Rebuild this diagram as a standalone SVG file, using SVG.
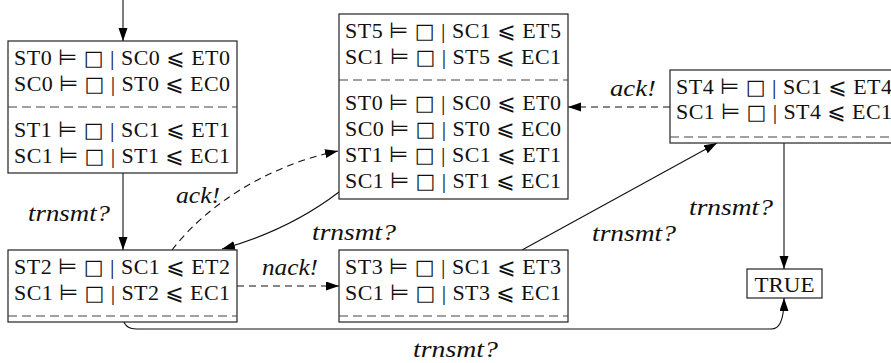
<svg xmlns="http://www.w3.org/2000/svg" width="891" height="363" viewBox="0 0 891 363">
<style>
.box{fill:#fff;stroke:#222;stroke-width:1.2}
.sep{stroke:#444;stroke-width:1.1;stroke-dasharray:9 5;fill:none}
.t{font-family:"Liberation Serif","DejaVu Sans","DejaVu Serif",serif;font-size:22px;fill:#111}
.sym{font-family:"DejaVu Sans","DejaVu Serif",serif;font-size:22px}
.le{font-family:"DejaVu Sans","DejaVu Serif",serif;font-size:22px}
.sq{font-family:"DejaVu Sans","DejaVu Serif",serif;font-size:21px}
.lbl{font-family:"Liberation Serif","DejaVu Serif",serif;font-style:italic;font-size:23px;fill:#111}
.c{fill:none;stroke:#111;stroke-width:1.1}
.d{stroke-dasharray:7 5}
</style>
<defs>
<marker id="ah" markerUnits="userSpaceOnUse" markerWidth="14" markerHeight="10" refX="13" refY="4.5" orient="auto">
<path d="M0,0 L13,4.5 L0,9 z" fill="#000"/>
</marker>
</defs>
<g id="connectors">
<path class="c" d="M123,0 L123,41" marker-end="url(#ah)"/>
<path class="c" d="M123,173 L123,250" marker-end="url(#ah)"/>
<path class="c d" d="M172,250 C205,207 265,166 338,151" marker-end="url(#ah)"/>
<path class="c" d="M339,192 C305,218 265,237 222,249" marker-end="url(#ah)"/>
<path class="c d" d="M237,286 L339,286" marker-end="url(#ah)"/>
<path class="c" d="M522,250 L717,143" marker-end="url(#ah)"/>
<path class="c d" d="M670,107 L568,107" marker-end="url(#ah)"/>
<path class="c" d="M784,143 L784,269" marker-end="url(#ah)"/>
<path class="c" d="M123,316 C123,325 128,329 137,329 L771,329 C779,329 784,322 784,298" marker-end="url(#ah)"/>
<text class="lbl" x="28" y="221" textLength="82" lengthAdjust="spacingAndGlyphs">trnsmt?</text>
<text class="lbl" x="176" y="203" textLength="44" lengthAdjust="spacingAndGlyphs">ack!</text>
<text class="lbl" x="312" y="240" textLength="84" lengthAdjust="spacingAndGlyphs">trnsmt?</text>
<text class="lbl" x="262" y="275" textLength="56" lengthAdjust="spacingAndGlyphs">nack!</text>
<text class="lbl" x="592" y="241" textLength="84" lengthAdjust="spacingAndGlyphs">trnsmt?</text>
<text class="lbl" x="689" y="215" textLength="84" lengthAdjust="spacingAndGlyphs">trnsmt?</text>
<text class="lbl" x="610" y="96" textLength="46" lengthAdjust="spacingAndGlyphs">ack!</text>
<text class="lbl" x="413" y="357" textLength="85" lengthAdjust="spacingAndGlyphs">trnsmt?</text>
</g>
<g id="ST0">
<rect class="box" x="8" y="41" width="229" height="132"/>
<line class="sep" x1="8" y1="107" x2="237" y2="107"/>
<text class="t" x="14" y="65" textLength="216">ST0 <tspan class="sym">⊨</tspan> <tspan class="sq">□</tspan> | SC0 <tspan class="le">⩽</tspan> ET0</text>
<text class="t" x="14" y="91" textLength="216">SC0 <tspan class="sym">⊨</tspan> <tspan class="sq">□</tspan> | ST0 <tspan class="le">⩽</tspan> EC0</text>
<text class="t" x="14" y="137" textLength="216">ST1 <tspan class="sym">⊨</tspan> <tspan class="sq">□</tspan> | SC1 <tspan class="le">⩽</tspan> ET1</text>
<text class="t" x="14" y="163" textLength="216">SC1 <tspan class="sym">⊨</tspan> <tspan class="sq">□</tspan> | ST1 <tspan class="le">⩽</tspan> EC1</text>
</g>
<g id="ST2">
<rect class="box" x="8" y="250" width="229" height="72"/>
<line class="sep" x1="8" y1="316" x2="237" y2="316"/>
<text class="t" x="14" y="274" textLength="216">ST2 <tspan class="sym">⊨</tspan> <tspan class="sq">□</tspan> | SC1 <tspan class="le">⩽</tspan> ET2</text>
<text class="t" x="14" y="300" textLength="216">SC1 <tspan class="sym">⊨</tspan> <tspan class="sq">□</tspan> | ST2 <tspan class="le">⩽</tspan> EC1</text>
</g>
<g id="ST5">
<rect class="box" x="339" y="14" width="229" height="185"/>
<line class="sep" x1="339" y1="80" x2="568" y2="80"/>
<text class="t" x="345" y="38" textLength="216">ST5 <tspan class="sym">⊨</tspan> <tspan class="sq">□</tspan> | SC1 <tspan class="le">⩽</tspan> ET5</text>
<text class="t" x="345" y="64" textLength="216">SC1 <tspan class="sym">⊨</tspan> <tspan class="sq">□</tspan> | ST5 <tspan class="le">⩽</tspan> EC1</text>
<text class="t" x="345" y="110" textLength="216">ST0 <tspan class="sym">⊨</tspan> <tspan class="sq">□</tspan> | SC0 <tspan class="le">⩽</tspan> ET0</text>
<text class="t" x="345" y="136" textLength="216">SC0 <tspan class="sym">⊨</tspan> <tspan class="sq">□</tspan> | ST0 <tspan class="le">⩽</tspan> EC0</text>
<text class="t" x="345" y="162" textLength="216">ST1 <tspan class="sym">⊨</tspan> <tspan class="sq">□</tspan> | SC1 <tspan class="le">⩽</tspan> ET1</text>
<text class="t" x="345" y="188" textLength="216">SC1 <tspan class="sym">⊨</tspan> <tspan class="sq">□</tspan> | ST1 <tspan class="le">⩽</tspan> EC1</text>
</g>
<g id="ST3">
<rect class="box" x="339" y="250" width="229" height="72"/>
<line class="sep" x1="339" y1="316" x2="568" y2="316"/>
<text class="t" x="345" y="274" textLength="216">ST3 <tspan class="sym">⊨</tspan> <tspan class="sq">□</tspan> | SC1 <tspan class="le">⩽</tspan> ET3</text>
<text class="t" x="345" y="300" textLength="216">SC1 <tspan class="sym">⊨</tspan> <tspan class="sq">□</tspan> | ST3 <tspan class="le">⩽</tspan> EC1</text>
</g>
<g id="ST4">
<rect class="box" x="670" y="70" width="229" height="73"/>
<line class="sep" x1="670" y1="137" x2="899" y2="137"/>
<text class="t" x="676" y="94" textLength="216">ST4 <tspan class="sym">⊨</tspan> <tspan class="sq">□</tspan> | SC1 <tspan class="le">⩽</tspan> ET4</text>
<text class="t" x="676" y="119" textLength="216">SC1 <tspan class="sym">⊨</tspan> <tspan class="sq">□</tspan> | ST4 <tspan class="le">⩽</tspan> EC1</text>
</g>
<g id="TRUE">
<rect class="box" x="747" y="269" width="75" height="29"/>
<text class="t" x="784.5" y="292" text-anchor="middle" textLength="60" lengthAdjust="spacingAndGlyphs">TRUE</text>
</g>
</svg>
